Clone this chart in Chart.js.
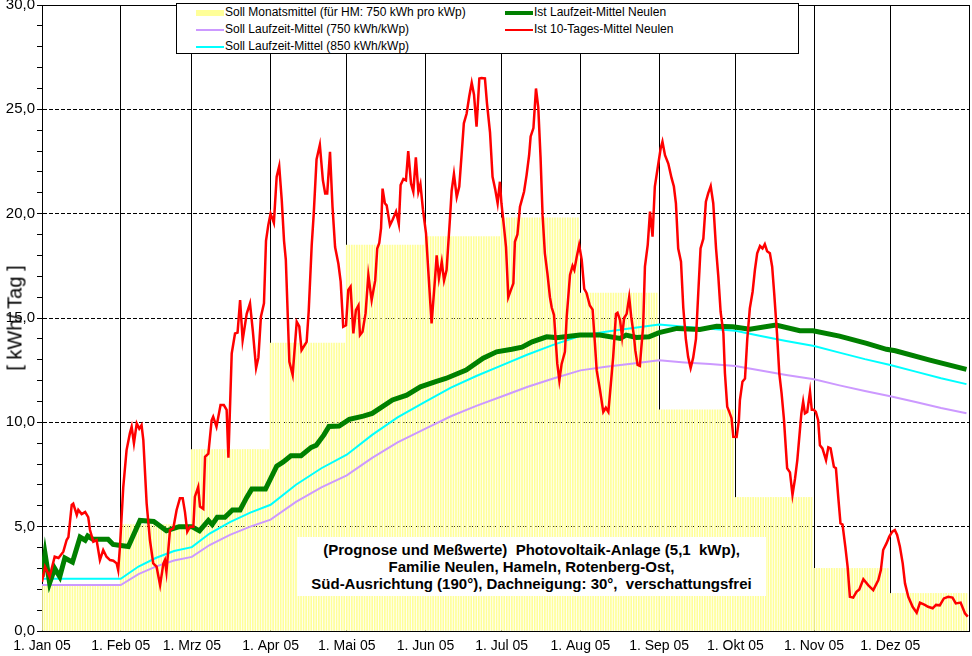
<!DOCTYPE html>
<html>
<head>
<meta charset="utf-8">
<title>Photovoltaik-Anlage Neulen 2005</title>
<script src="https://cdn.jsdelivr.net/npm/chart.js@4.4.0/dist/chart.umd.min.js"></script>
<style>
  body { margin: 0; background: #fff; }
  #wrap { position: relative; width: 972px; height: 656px; font-family: Arial, "Liberation Sans", sans-serif; color: #000; }
  #chart { position: absolute; left: 0; top: 0; }
  .legend { position: absolute; left: 176px; top: 3px; width: 621px; height: 49px; border: 1px solid #000; background: #fff; font-size: 12px; }
  .legend .item { position: absolute; white-space: nowrap; line-height: 14px; height: 14px; }
  .legend .mark { display: inline-block; vertical-align: middle; width: 28px; margin-right: 1px; }
  .note { position: absolute; left: 297px; top: 537px; width: 469px; height: 59px; background: #fff;
          text-align: center; font-weight: bold; font-size: 15px; line-height: 17px; padding-top: 4px; box-sizing: border-box; }
  .ytitle { position: absolute; left: 15px; top: 318px; transform: translate(-50%, -50%) rotate(-90deg); font-size: 20px; white-space: nowrap; }
</style>
</head>
<body>
<div id="wrap">
  <canvas id="chart" width="972" height="656"></canvas>
  <div class="ytitle">[ kWh/ Tag ]</div>
  <div class="legend" id="legend"></div>
  <div class="note">(Prognose und Meßwerte)&nbsp; Photovoltaik-Anlage (5,1&nbsp; kWp),<br>Familie Neulen, Hameln, Rotenberg-Ost,<br>Süd-Ausrichtung (190°), Dachneigung: 30°,&nbsp; verschattungsfrei</div>
</div>
<script>
// Month axis
const monthLabels = ['1. Jan 05', '1. Feb 05', '1. Mrz 05', '1. Apr 05', '1. Mai 05', '1. Jun 05',
                     '1. Jul 05', '1. Aug 05', '1. Sep 05', '1. Okt 05', '1. Nov 05', '1. Dez 05'];
const monthStarts = [0, 31, 59, 90, 120, 151, 181, 212, 243, 273, 304, 334, 365];

// Soll Monatsmittel (kWh/Tag), one value per month
const sollMonthly = [2.2, 5.1, 8.7, 13.8, 18.5, 18.9, 19.8, 16.2, 10.6, 6.4, 3.0, 1.8];

// Soll Laufzeit-Mittel, read at these days
const sollDays = [0, 31, 38, 45, 52, 59, 66, 74, 82, 90, 100, 110, 120, 130, 140, 151, 161, 171, 181, 191,
                  201, 212, 222, 232, 243, 253, 263, 273, 283, 293, 304, 314, 324, 334, 344, 354, 364];
const soll750 = [2.2, 2.2, 2.73, 3.1, 3.38, 3.55, 4.12, 4.61, 5.0, 5.34, 6.19, 6.88, 7.46, 8.3, 9.04, 9.7, 10.29, 10.79, 11.24, 11.69,
                 12.09, 12.49, 12.66, 12.81, 12.97, 12.87, 12.79, 12.7, 12.48, 12.27, 12.06, 11.77, 11.5, 11.25, 10.97, 10.69, 10.44];
const soll850 = [2.5, 2.5, 3.09, 3.51, 3.83, 4.02, 4.67, 5.22, 5.67, 6.05, 7.01, 7.8, 8.45, 9.4, 10.24, 10.99, 11.66, 12.22, 12.73, 13.24,
                 13.7, 14.15, 14.34, 14.51, 14.69, 14.58, 14.49, 14.39, 14.14, 13.9, 13.66, 13.34, 13.03, 12.75, 12.43, 12.11, 11.83];

// Ist Laufzeit-Mittel Neulen
const istMeanDays = [0, 1.2, 3, 5, 7, 9, 12, 15, 17, 18, 20, 26, 28, 31, 34, 38.6, 44, 49, 54, 59, 62, 65.5, 67, 69, 72, 75, 78,
                     80.6, 82.6, 88, 92.4, 95, 98, 102, 106, 108, 111, 113, 117, 121, 126.5, 130, 138, 143.6, 149, 155, 159, 167,
                     173.7, 179, 185, 189, 193, 198.7, 202.6, 211.8, 219.7, 227.6, 230, 234, 239, 243, 250, 259, 265.6, 272,
                     278.7, 289, 298.4, 303.6, 314, 324.7, 332.5, 336, 349.6, 364];
const istMean = [2.6, 3.7, 2.3, 3.0, 2.6, 3.5, 3.3, 4.5, 4.35, 4.55, 4.4, 4.4, 4.15, 4.1, 4.05, 5.3, 5.25, 4.8, 5.0, 5.0, 4.8, 5.3, 5.1, 5.45, 5.45, 5.8, 5.8,
                 6.4, 6.8, 6.8, 7.9, 8.1, 8.4, 8.4, 8.8, 8.9, 9.4, 9.8, 9.82, 10.14, 10.3, 10.43, 11.07, 11.3, 11.7, 11.95, 12.1, 12.5,
                 13.07, 13.38, 13.5, 13.6, 13.86, 14.1, 14.06, 14.18, 14.18, 14.02, 14.18, 14.07, 14.1, 14.3, 14.5, 14.45, 14.6, 14.58,
                 14.46, 14.66, 14.39, 14.39, 14.13, 13.78, 13.5, 13.43, 12.98, 12.54];

// Ist 10-Tages-Mittel Neulen
const ist10Days = [0, 1.2, 3, 5, 6.5, 8.4, 9.7, 10.4, 11.7, 12.3, 13.7, 14.3, 15.6, 17, 18.2, 18.9, 20.2, 21.5, 22.8, 24.1, 25.4, 26.8, 28.1, 29.4, 30, 30.7,
  32, 33.3, 34.6, 35.3, 36.2, 37.3, 38.3, 39.2, 39.9, 41.2, 42.5, 43.8, 45.1, 46.5, 47.8, 48.4, 49, 50.4, 51.7, 53, 54.3, 55.4, 56.3, 57.2, 58.3, 59.6,
  60.2, 61.5, 62.2, 63.5, 64.2, 65.5, 66.8, 67.4, 68.7, 70.3, 71.6, 72.7, 73.4, 74.7, 76, 77, 78, 79, 80.6, 81.9, 83, 84.3, 85.2, 86.2, 87.4, 88.2, 89.1,
  90, 91.3, 92.4, 93.4, 94.4, 95.3, 96, 97.4, 98.7, 100.3, 101.3, 102.2, 104.2, 105, 106.2, 107, 108.1, 109.4, 110.6, 111.5, 112.3, 113.4, 114.4, 115.4,
  116.7, 117.6, 118.6, 119.7, 120.6, 121.5, 122.6, 123.6, 124.6, 125.2, 126.2, 127.4, 128.5, 129.8, 131.2, 132, 132.8, 133.5, 134.1, 135, 135.7, 137, 138,
  139.4, 140.5, 141.2, 142.3, 143.3, 144.2, 145.3, 146.2, 147.2, 148.2, 149, 150, 151.2, 152, 153.4, 154.7, 155.4, 156.3, 157.4, 158.3, 159.3, 160.6, 161.3,
  162.2, 163.3, 164.3, 165.2, 166.1, 167.2, 168.2, 169.2, 170.1, 171.1, 172.2, 173, 174.4, 175.2, 176.4, 177.4, 178.4, 179.4, 180.3, 180.9, 181.9, 182.7,
  183.6, 184.5, 185.6, 186.2, 187.2, 188.2, 188.8, 189.8, 190.8, 191.8, 192.4, 193.5, 194.5, 195.4, 196.3, 197.1, 198, 199, 200, 200.7, 201.6, 202.3, 202.9,
  203.7, 204.6, 205.9, 206.6, 207.9, 208.9, 209.6, 210.5, 211.5, 212.5, 213.5, 214.4, 215.7, 216.8, 217.7, 218.4, 219.7, 221, 222, 223, 224, 224.9, 226,
  226.6, 227.6, 228.4, 229.2, 230.2, 231.2, 232, 233.1, 233.6, 234.5, 235.4, 236, 236.7, 237.4, 238.5, 239.4, 240.4, 241.3, 242.6, 243.6, 244.3, 245.3, 246.6,
  247.9, 248.8, 249.6, 250.5, 251.6, 252.5, 253.5, 254.4, 255.4, 256.4, 257.5, 258.4, 259.3, 260.4, 261.4, 262.3, 263.3, 264.3, 265.4, 266.3, 267.2, 268.3,
  268.9, 269.8, 270.6, 271.5, 272.2, 273.5, 274.4, 274.8, 275.8, 276.8, 277.7, 278.7, 279.8, 280.7, 281.6, 282.7, 283.7, 284.6, 285.5, 286.6, 287.5, 288.3,
  289.4, 290.3, 291.2, 292.1, 293.4, 294.5, 295.5, 296.5, 297.4, 298.2, 299, 299.7, 300.4, 301.3, 302.4, 303.1, 303.9, 304.7, 305.6, 306.3, 307.3, 308.7,
  309.6, 310.5, 311.8, 312.6, 313.5, 314.4, 315.2, 316.3, 317.2, 318.1, 319.4, 320.7, 321.8, 323.4, 325.3, 327.3, 329.3, 330.3, 331.2, 332.5, 333.6, 334.8,
  335.8, 336.7, 337.8, 338.9, 339.8, 341.1, 342.8, 344.4, 345.7, 347.6, 348.9, 350.7, 352, 353.5, 355.1, 356.8, 358.5, 359.8, 361.7, 363.4, 364.5];
const ist10 = [2.36, 3.08, 2.6, 3.56, 3.5, 3.8, 4.36, 4.5, 6.04, 6.1, 5.56, 5.8, 5.6, 5.7, 5.46, 4.84, 4.28, 4.36, 3.4, 3.88, 3.56, 3.4, 3.37, 3.24, 2.92, 4.04,
  6.9, 8.67, 9.47, 9.79, 9.0, 9.95, 9.7, 9.87, 9.15, 6.12, 4.36, 3.24, 3.08, 2.2, 3.24, 3.4, 2.84, 4.84, 4.92, 5.8, 6.36, 6.36, 5.7, 4.76, 5.0, 5.0,
  6.44, 6.9, 5.96, 5.85, 8.35, 8.5, 10.1, 10.27, 9.79, 10.83, 10.83, 10.6, 8.3, 13.3, 14.26, 14.3, 15.86, 13.94, 15.2, 15.7, 14.4, 12.6, 13.1, 15.06, 15.7, 18.7, 19.45,
  20.0, 19.56, 21.77, 22.28, 20.65, 18.7, 17.8, 12.9, 12.27, 14.82, 14.6, 13.46, 13.86, 15.3, 18.5, 20.0, 22.6, 23.3, 21.6, 20.97, 20.97, 22.96, 20.3, 18.4,
  17.6, 16.74, 14.58, 14.65, 16.34, 16.5, 14.26, 15.38, 15.6, 14.18, 14.34, 15.22, 17.06, 15.86, 16.8, 18.33, 18.6, 19.3, 21.2, 20.5, 20.4, 19.45, 19.7,
  20.1, 19.5, 21.37, 21.66, 21.6, 23.0, 21.45, 21.05, 22.7, 21.05, 21.42, 20.2, 19.06, 17.46, 14.74, 16.8, 18.0, 16.9, 17.7, 16.8, 17.3, 19.7, 21.1,
  21.9, 20.8, 21.3, 22.8, 24.33, 24.8, 25.6, 26.27, 25.7, 24.17, 26.48, 26.5, 26.48, 25.3, 23.9, 21.77, 21.2, 20.5, 21.53, 20.5, 19.37, 18.4,
  16.0, 16.3, 16.66, 18.65, 19.0, 20.33, 20.6, 21.05, 21.85, 22.8, 23.7, 24.1, 26.0, 25.1, 22.7, 19.93, 18.1, 17.14, 16.0, 15.5, 15.14, 13.86, 12.8,
  12.0, 12.8, 13.38, 15.06, 17.06, 17.5, 17.3, 17.9, 18.5, 17.8, 16.4, 16.2, 15.6, 15.4, 13.8, 12.5, 11.55, 10.5, 10.7, 10.5, 11.87, 13.14, 15.2,
  15.25, 14.9, 14.1, 15.0, 15.2, 16.0, 15.06, 14.1, 13.46, 12.75, 12.7, 13.6, 14.6, 17.46, 18.5, 20.1, 18.9, 21.3, 22.33, 23.13, 23.45, 22.8, 22.4,
  21.7, 21.3, 20.5, 18.33, 17.7, 15.5, 14.0, 13.14, 12.6, 13.1, 14.0, 16.2, 18.33, 18.8, 20.57, 20.97, 21.32, 20.5, 18.33, 16.98, 15.3, 14.26,
  12.35, 10.75, 10.5, 10.2, 9.31, 9.3, 10.1, 11.07, 11.95, 12.1, 14.0, 15.46, 16.26, 17.3, 18.1, 18.45, 18.33, 18.54, 18.2, 18.1, 17.46, 16.18,
  14.26, 12.35, 11.4, 10.2, 7.8, 7.6, 6.52, 7.3, 8.19, 9.31, 10.43, 10.99, 10.43, 10.5, 11.47, 10.6, 10.6, 10.5, 10.1, 8.9, 8.75, 8.19,
  8.8, 8.75, 7.87, 7.8, 6.44, 5.16, 5.1, 4.04, 3.08, 1.64, 1.6, 1.88, 1.99, 2.48, 2.2, 1.96, 2.44, 2.92, 3.88, 4.2, 4.52, 4.76,
  4.84, 4.6, 4.04, 3.24, 2.28, 1.64, 1.16, 0.88, 1.36, 1.25, 1.16, 1.09, 1.25, 1.23, 1.56, 1.64, 1.6, 1.32, 1.36, 0.85, 0.69];

const yMax = 30;
const yMajor = 5;

// daily bars built from the monthly values
function monthlyBars() {
    const out = [];
    for (let m = 0; m < sollMonthly.length; m++) {
        for (let d = monthStarts[m]; d < monthStarts[m + 1]; d++) {
            out.push({ x: d, y: sollMonthly[m] });
        }
    }
    return out;
}

function pairs(days, values) {
    return days.map((d, i) => ({ x: d, y: values[i] }));
}

// legend, drawn as html over the plot
const legendItems = [
    { text: 'Soll Monatsmittel (für HM: 750 kWh pro kWp)', color: '#FFFF99', h: 6, left: 19, top: 1 },
    { text: 'Soll Laufzeit-Mittel (750 kWh/kWp)', color: '#CC99FF', h: 2, left: 19, top: 18 },
    { text: 'Soll Laufzeit-Mittel (850 kWh/kWp)', color: '#00FFFF', h: 2, left: 19, top: 35 },
    { text: 'Ist Laufzeit-Mittel Neulen', color: '#008000', h: 4, left: 328, top: 1 },
    { text: 'Ist 10-Tages-Mittel Neulen', color: '#FF0000', h: 2, left: 328, top: 18 }
];

function buildLegend() {
    const box = document.getElementById('legend');
    legendItems.forEach(item => {
        const el = document.createElement('div');
        el.className = 'item';
        el.style.left = item.left + 'px';
        el.style.top = item.top + 'px';
        const mark = document.createElement('span');
        mark.className = 'mark';
        mark.style.height = item.h + 'px';
        mark.style.background = item.color;
        el.appendChild(mark);
        el.appendChild(document.createTextNode(item.text));
        box.appendChild(el);
    });
}

// top border of the plot area
const frame = {
    id: 'frame',
    beforeDatasetsDraw(chart) {
        const { ctx, chartArea } = chart;
        ctx.save();
        ctx.strokeStyle = '#000';
        ctx.lineWidth = 1;
        ctx.beginPath();
        ctx.moveTo(chartArea.left, Math.round(chartArea.top) + 0.5);
        ctx.lineTo(chartArea.right, Math.round(chartArea.top) + 0.5);
        ctx.stroke();
        ctx.restore();
    }
};

function createChart() {
    const ctx = document.getElementById('chart').getContext('2d');
    const lineBase = { type: 'line', pointRadius: 0, tension: 0, fill: false };
    new Chart(ctx, {
        data: {
            datasets: [
                { ...lineBase, label: 'Ist 10-Tages-Mittel Neulen', data: pairs(ist10Days, ist10), borderColor: '#FF0000', borderWidth: 2.5, order: 1 },
                { ...lineBase, label: 'Ist Laufzeit-Mittel Neulen', data: pairs(istMeanDays, istMean), borderColor: '#008000', borderWidth: 5, order: 2 },
                { ...lineBase, label: 'Soll Laufzeit-Mittel (850 kWh/kWp)', data: pairs(sollDays, soll850), borderColor: '#00FFFF', borderWidth: 2, order: 3 },
                { ...lineBase, label: 'Soll Laufzeit-Mittel (750 kWh/kWp)', data: pairs(sollDays, soll750), borderColor: '#CC99FF', borderWidth: 2, order: 4 },
                { type: 'bar', label: 'Soll Monatsmittel (für HM: 750 kWh pro kWp)', data: monthlyBars(), backgroundColor: '#FFFF99', barThickness: 1, order: 5 }
            ]
        },
        options: {
            responsive: false,
            animation: false,
            layout: { padding: { top: 5, right: 3, left: 0, bottom: 0 } },
            plugins: { legend: { display: false }, tooltip: { enabled: false } },
            scales: {
                x: {
                    type: 'linear',
                    min: 0,
                    max: 365,
                    offset: false,
                    afterBuildTicks: s => { s.ticks = monthStarts.map(v => ({ value: v })); },
                    ticks: {
                        autoSkip: false,
                        maxRotation: 0,
                        padding: 7,
                        color: '#000',
                        font: { family: 'Arial, "Liberation Sans", sans-serif', size: 14 },
                        callback: (v, i) => monthLabels[i] || ''
                    },
                    grid: { color: '#000', lineWidth: 1, drawTicks: false, offset: false },
                    border: { color: '#000' },
                    afterFit: s => { s.height = 25; s.paddingLeft = 0; s.paddingRight = 0; }
                },
                y: {
                    min: 0,
                    max: yMax,
                    afterBuildTicks: s => {
                        const t = [];
                        for (let v = 0; v <= yMax; v++) t.push({ value: v });
                        s.ticks = t;
                    },
                    ticks: {
                        autoSkip: false,
                        padding: 2,
                        color: '#000',
                        font: { family: 'Arial, "Liberation Sans", sans-serif', size: 15 },
                        callback: v => v % yMajor === 0 ? v.toFixed(1).replace('.', ',') : ''
                    },
                    grid: {
                        color: c => (c.tick && c.tick.value % yMajor === 0 && c.tick.value > 0 && c.tick.value < yMax) ? '#000' : 'rgba(0,0,0,0)',
                        tickColor: '#000',
                        tickLength: 5
                    },
                    border: { color: '#000', dash: [4, 2] },
                    afterFit: s => { s.width = 42; s.paddingTop = 0; s.paddingBottom = 0; }
                }
            }
        },
        plugins: [frame]
    });
}

document.addEventListener('DOMContentLoaded', () => {
    buildLegend();
    createChart();
});
</script>
</body>
</html>
